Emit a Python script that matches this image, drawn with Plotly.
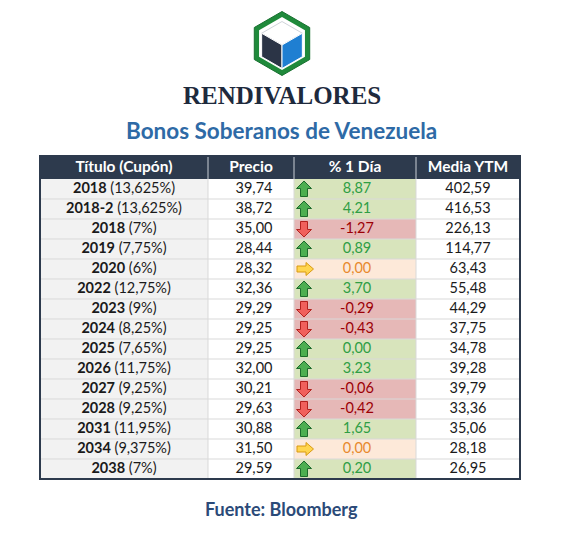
import math
import plotly.graph_objects as go

# ---------------- data ----------------
years = ["2018", "2018-2", "2018", "2019", "2020", "2022", "2023", "2024",
         "2025", "2026", "2027", "2028", "2031", "2034", "2038"]
coupons = ["13,625%", "13,625%", "7%", "7,75%", "6%", "12,75%", "9%", "8,25%",
           "7,65%", "11,75%", "9,25%", "9,25%", "11,95%", "9,375%", "7%"]
precio = [39.74, 38.72, 35.00, 28.44, 28.32, 32.36, 29.29, 29.25,
          29.25, 32.00, 30.21, 29.63, 30.88, 31.50, 29.59]
cambio_1d = [8.87, 4.21, -1.27, 0.89, 0.00, 3.70, -0.29, -0.43,
             0.00, 3.23, -0.06, -0.42, 1.65, 0.00, 0.20]
direccion = ["up", "up", "down", "up", "flat", "up", "down", "down",
             "up", "up", "down", "down", "up", "flat", "up"]
media_ytm = [402.59, 416.53, 226.13, 114.77, 63.43, 55.48, 44.29, 37.75,
             34.78, 39.28, 39.79, 33.36, 35.06, 28.18, 26.95]
headers = ["Título (Cupón)", "Precio", "% 1 Día", "Media YTM"]

brand = "RENDIVALORES"
subtitle = "Bonos Soberanos de Venezuela"
source = "Fuente: Bloomberg"

# ---------------- styling / geometry ----------------
W, H = 563, 539
col_edges = [40, 208, 294, 416, 520]
head_top, head_bot = 156, 179
row_h = 20
FONT = "Lato"

fill_map = {"up": "#d8e4bc", "down": "#e6b8b7", "flat": "#fde9d9"}
txt_map = {"up": "#2f9e44", "down": "#9c0006", "flat": "#e8892d"}


def fmt(v):
    s = f"{v:,.2f}"
    return s.replace(",", "X").replace(".", ",").replace("X", ".")


n = len(years)
row_top = [head_bot + i * row_h for i in range(n)]
row_mid = [t + row_h / 2 for t in row_top]
table_bot = row_top[-1] + row_h
col_mid = [(col_edges[i] + col_edges[i + 1]) / 2 for i in range(4)]

shapes = []

# header background
shapes.append(dict(type="rect", x0=col_edges[0], x1=col_edges[-1], y0=head_top, y1=head_bot,
                   fillcolor="#2d3a4d", line=dict(width=0), layer="below"))
# first column grey
shapes.append(dict(type="rect", x0=col_edges[0], x1=col_edges[1], y0=head_bot, y1=table_bot,
                   fillcolor="#f2f2f2", line=dict(width=0), layer="below"))
# colored change cells
for i, d in enumerate(direccion):
    shapes.append(dict(type="rect", x0=col_edges[2], x1=col_edges[3], y0=row_top[i],
                       y1=row_top[i] + row_h, fillcolor=fill_map[d], line=dict(width=0),
                       layer="below"))
# horizontal grid lines
for i in range(1, n):
    shapes.append(dict(type="line", x0=col_edges[0], x1=col_edges[-1], y0=row_top[i],
                       y1=row_top[i], line=dict(color="#d9d9d9", width=1), layer="below"))
# vertical grid lines
for x in col_edges[1:-1]:
    shapes.append(dict(type="line", x0=x, x1=x, y0=head_bot, y1=table_bot,
                       line=dict(color="#d9d9d9", width=1), layer="below"))
    shapes.append(dict(type="line", x0=x, x1=x, y0=head_top, y1=head_bot,
                       line=dict(color="#c9ced6", width=1), layer="below"))
# outer border
shapes.append(dict(type="rect", x0=col_edges[0], x1=col_edges[-1], y0=head_top, y1=table_bot,
                   fillcolor="rgba(0,0,0,0)", line=dict(color="#2d3a4d", width=2)))


def poly(pts):
    return "M " + " L ".join(f"{x:.2f},{y:.2f}" for x, y in pts) + " Z"


# arrows
ax = col_edges[2] + 10
for i, d in enumerate(direccion):
    cx, cy = ax, row_mid[i]
    if d == "up":
        pts = [(cx, cy - 8), (cx + 7.5, cy - 0.5), (cx + 3.5, cy - 0.5), (cx + 3.5, cy + 7.5),
               (cx - 3.5, cy + 7.5), (cx - 3.5, cy - 0.5), (cx - 7.5, cy - 0.5)]
        fc, lc = "#4caf50", "#1d6b2c"
    elif d == "down":
        pts = [(cx, cy + 8), (cx + 7.5, cy + 0.5), (cx + 3.5, cy + 0.5), (cx + 3.5, cy - 7.5),
               (cx - 3.5, cy - 7.5), (cx - 3.5, cy + 0.5), (cx - 7.5, cy + 0.5)]
        fc, lc = "#f0605c", "#b2221f"
    else:
        cx = cx + 1
        pts = [(cx + 8.5, cy), (cx + 1, cy - 6.5), (cx + 1, cy - 3), (cx - 8, cy - 3),
               (cx - 8, cy + 3), (cx + 1, cy + 3), (cx + 1, cy + 6.5)]
        fc, lc = "#ffd54f", "#d99a12"
    shapes.append(dict(type="path", path=poly(pts), fillcolor=fc, line=dict(color=lc, width=1)))

# logo
lx, ly, R = 282, 43.5, 32


def hexagon(cx, cy, r):
    return [(cx + r * math.cos(math.radians(90 + 60 * k)), cy - r * math.sin(math.radians(90 + 60 * k)))
            for k in range(6)]


shapes.append(dict(type="path", path=poly(hexagon(lx, ly, R)), fillcolor="#1f8a3b",
                   line=dict(color="#17702f", width=1)))
shapes.append(dict(type="path", path=poly(hexagon(lx, ly, R - 5.5)), fillcolor="white",
                   line=dict(width=0)))
cr = 23.5
ccx, ccy = lx, ly + 1.5
top = (ccx, ccy - cr)
ul = (ccx - cr * math.cos(math.radians(30)), ccy - cr / 2)
ll = (ccx - cr * math.cos(math.radians(30)), ccy + cr / 2)
bot = (ccx, ccy + cr)
lr = (ccx + cr * math.cos(math.radians(30)), ccy + cr / 2)
ur = (ccx + cr * math.cos(math.radians(30)), ccy - cr / 2)
cen = (ccx, ccy)
shapes.append(dict(type="path", path=poly([top, ur, cen, ul]), fillcolor="white",
                   line=dict(color="#d0d4da", width=1)))
shapes.append(dict(type="path", path=poly([ul, cen, bot, ll]), fillcolor="#2b3446",
                   line=dict(color="white", width=1)))
shapes.append(dict(type="path", path=poly([cen, ur, lr, bot]), fillcolor="#1f7fd2",
                   line=dict(color="white", width=1)))

fig = go.Figure()

BODY = 14.5
# header text
fig.add_trace(go.Scatter(x=col_mid, y=[(head_top + head_bot) / 2 + 0.5] * 4, mode="text",
                         text=[f"<b>{h}</b>" for h in headers],
                         textfont=dict(family=FONT, size=15.5, color="white"),
                         hoverinfo="skip", showlegend=False))
# columns
fig.add_trace(go.Scatter(x=[col_mid[0]] * n, y=row_mid, mode="text",
                         text=[f"<b>{y}</b> ({c})" for y, c in zip(years, coupons)],
                         textfont=dict(family=FONT, size=BODY, color="#1a1a1a"),
                         hoverinfo="skip", showlegend=False))
fig.add_trace(go.Scatter(x=[col_mid[1] + 3] * n, y=row_mid, mode="text",
                         text=[fmt(v) for v in precio],
                         textfont=dict(family=FONT, size=BODY, color="#1a1a1a"),
                         hoverinfo="skip", showlegend=False))
fig.add_trace(go.Scatter(x=[col_mid[2] + 2] * n, y=row_mid, mode="text",
                         text=[fmt(v) for v in cambio_1d],
                         textfont=dict(family=FONT, size=BODY, color=[txt_map[d] for d in direccion]),
                         hoverinfo="skip", showlegend=False))
fig.add_trace(go.Scatter(x=[col_mid[3]] * n, y=row_mid, mode="text",
                         text=[fmt(v) for v in media_ytm],
                         textfont=dict(family=FONT, size=BODY, color="#1a1a1a"),
                         hoverinfo="skip", showlegend=False))

annotations = [
    dict(x=282, y=95, text=f"<b>{brand}</b>", showarrow=False,
         font=dict(family="Liberation Serif", size=25, color="#1e2a3d")),
    dict(x=281, y=130, text=f"<b>{subtitle}</b>", showarrow=False,
         font=dict(family=FONT, size=22.5, color="#2e6aa6")),
    dict(x=281, y=509, text=f"<b>{source}</b>", showarrow=False,
         font=dict(family=FONT, size=18, color="#2b4a78")),
]

fig.update_layout(
    width=W, height=H, margin=dict(l=0, r=0, t=0, b=0),
    paper_bgcolor="white", plot_bgcolor="white",
    xaxis=dict(range=[0, W], visible=False, fixedrange=True),
    yaxis=dict(range=[H, 0], visible=False, fixedrange=True),
    shapes=shapes, annotations=annotations,
)

fig.write_html("out.html", config={"displayModeBar": False},
               post_script="document.body.style.margin='0';document.body.style.overflow='hidden';")
